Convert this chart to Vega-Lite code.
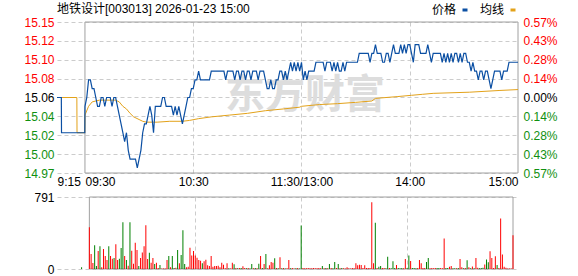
{
"$schema": "https://vega.github.io/schema/vega-lite/v6.json",
"background": "white",
"padding": {"left": 23, "top": 3, "right": 10, "bottom": 0},
"bounds": "flush",
"spacing": 24,
"resolve": {"scale": {"color": "independent"}, "legend": {"color": "independent"}},
"config": {"font": "Liberation Sans, Noto Sans CJK SC", "view": {"stroke": null}},
"datasets": {
"px": [
{"t":-15.5,"p":15.06,"s":"价格"},{"t":-13.1,"p":15.06,"s":"价格"},{"t":-13,"p":15.02,"s":"价格"},{"t":-0.1,"p":15.02,"s":"价格"},
{"t":0,"p":15.05,"s":"价格"},{"t":1,"p":15.06,"s":"价格"},{"t":2,"p":15.08,"s":"价格"},{"t":3,"p":15.08,"s":"价格"},{"t":4,"p":15.07,"s":"价格"},{"t":5,"p":15.07,"s":"价格"},{"t":6,"p":15.06,"s":"价格"},{"t":7,"p":15.05,"s":"价格"},{"t":8,"p":15.05,"s":"价格"},{"t":9,"p":15.06,"s":"价格"},
{"t":10,"p":15.06,"s":"价格"},{"t":11,"p":15.05,"s":"价格"},{"t":12,"p":15.06,"s":"价格"},{"t":13,"p":15.06,"s":"价格"},{"t":14,"p":15.06,"s":"价格"},{"t":15,"p":15.05,"s":"价格"},{"t":16,"p":15.06,"s":"价格"},{"t":17,"p":15.06,"s":"价格"},{"t":18,"p":15.05,"s":"价格"},{"t":19,"p":15.04,"s":"价格"},
{"t":20,"p":15.03,"s":"价格"},{"t":21,"p":15.02,"s":"价格"},{"t":22,"p":15.01,"s":"价格"},{"t":23,"p":15.02,"s":"价格"},{"t":24,"p":15.00,"s":"价格"},{"t":25,"p":14.99,"s":"价格"},{"t":26,"p":14.99,"s":"价格"},{"t":27,"p":14.99,"s":"价格"},{"t":28,"p":14.99,"s":"价格"},{"t":29,"p":14.98,"s":"价格"},
{"t":30,"p":14.99,"s":"价格"},{"t":31,"p":15.00,"s":"价格"},{"t":32,"p":15.02,"s":"价格"},{"t":33,"p":15.03,"s":"价格"},{"t":34,"p":15.03,"s":"价格"},{"t":35,"p":15.04,"s":"价格"},{"t":36,"p":15.05,"s":"价格"},{"t":37,"p":15.04,"s":"价格"},{"t":38,"p":15.02,"s":"价格"},{"t":39,"p":15.05,"s":"价格"},
{"t":40,"p":15.05,"s":"价格"},{"t":41,"p":15.05,"s":"价格"},{"t":42,"p":15.05,"s":"价格"},{"t":43,"p":15.06,"s":"价格"},{"t":44,"p":15.06,"s":"价格"},{"t":45,"p":15.05,"s":"价格"},{"t":46,"p":15.05,"s":"价格"},{"t":47,"p":15.05,"s":"价格"},{"t":48,"p":15.05,"s":"价格"},{"t":49,"p":15.04,"s":"价格"},
{"t":50,"p":15.05,"s":"价格"},{"t":51,"p":15.04,"s":"价格"},{"t":52,"p":15.05,"s":"价格"},{"t":53,"p":15.04,"s":"价格"},{"t":54,"p":15.03,"s":"价格"},{"t":55,"p":15.04,"s":"价格"},{"t":56,"p":15.05,"s":"价格"},{"t":57,"p":15.06,"s":"价格"},{"t":58,"p":15.06,"s":"价格"},{"t":59,"p":15.07,"s":"价格"},
{"t":60,"p":15.07,"s":"价格"},{"t":61,"p":15.08,"s":"价格"},{"t":62,"p":15.08,"s":"价格"},{"t":63,"p":15.09,"s":"价格"},{"t":64,"p":15.08,"s":"价格"},{"t":65,"p":15.08,"s":"价格"},{"t":66,"p":15.08,"s":"价格"},{"t":67,"p":15.08,"s":"价格"},{"t":68,"p":15.08,"s":"价格"},{"t":69,"p":15.08,"s":"价格"},
{"t":70,"p":15.09,"s":"价格"},{"t":71,"p":15.09,"s":"价格"},{"t":72,"p":15.09,"s":"价格"},{"t":73,"p":15.09,"s":"价格"},{"t":74,"p":15.09,"s":"价格"},{"t":75,"p":15.09,"s":"价格"},{"t":76,"p":15.09,"s":"价格"},{"t":77,"p":15.09,"s":"价格"},{"t":78,"p":15.08,"s":"价格"},{"t":79,"p":15.09,"s":"价格"},
{"t":80,"p":15.09,"s":"价格"},{"t":81,"p":15.09,"s":"价格"},{"t":82,"p":15.09,"s":"价格"},{"t":83,"p":15.08,"s":"价格"},{"t":84,"p":15.09,"s":"价格"},{"t":85,"p":15.09,"s":"价格"},{"t":86,"p":15.08,"s":"价格"},{"t":87,"p":15.09,"s":"价格"},{"t":88,"p":15.09,"s":"价格"},{"t":89,"p":15.08,"s":"价格"},
{"t":90,"p":15.09,"s":"价格"},{"t":91,"p":15.09,"s":"价格"},{"t":92,"p":15.08,"s":"价格"},{"t":93,"p":15.09,"s":"价格"},{"t":94,"p":15.09,"s":"价格"},{"t":95,"p":15.09,"s":"价格"},{"t":96,"p":15.08,"s":"价格"},{"t":97,"p":15.09,"s":"价格"},{"t":98,"p":15.09,"s":"价格"},{"t":99,"p":15.09,"s":"价格"},
{"t":100,"p":15.08,"s":"价格"},{"t":101,"p":15.07,"s":"价格"},{"t":102,"p":15.07,"s":"价格"},{"t":103,"p":15.08,"s":"价格"},{"t":104,"p":15.07,"s":"价格"},{"t":105,"p":15.07,"s":"价格"},{"t":106,"p":15.08,"s":"价格"},{"t":107,"p":15.08,"s":"价格"},{"t":108,"p":15.09,"s":"价格"},{"t":109,"p":15.09,"s":"价格"},
{"t":110,"p":15.08,"s":"价格"},{"t":111,"p":15.09,"s":"价格"},{"t":112,"p":15.08,"s":"价格"},{"t":113,"p":15.09,"s":"价格"},{"t":114,"p":15.10,"s":"价格"},{"t":115,"p":15.09,"s":"价格"},{"t":116,"p":15.10,"s":"价格"},{"t":117,"p":15.09,"s":"价格"},{"t":118,"p":15.10,"s":"价格"},{"t":119,"p":15.09,"s":"价格"},
{"t":120,"p":15.10,"s":"价格"},{"t":121,"p":15.08,"s":"价格"},{"t":122,"p":15.09,"s":"价格"},{"t":123,"p":15.08,"s":"价格"},{"t":124,"p":15.09,"s":"价格"},{"t":125,"p":15.09,"s":"价格"},{"t":126,"p":15.09,"s":"价格"},{"t":127,"p":15.09,"s":"价格"},{"t":128,"p":15.10,"s":"价格"},{"t":129,"p":15.10,"s":"价格"},
{"t":130,"p":15.10,"s":"价格"},{"t":131,"p":15.10,"s":"价格"},{"t":132,"p":15.10,"s":"价格"},{"t":133,"p":15.09,"s":"价格"},{"t":134,"p":15.10,"s":"价格"},{"t":135,"p":15.10,"s":"价格"},{"t":136,"p":15.10,"s":"价格"},{"t":137,"p":15.09,"s":"价格"},{"t":138,"p":15.10,"s":"价格"},{"t":139,"p":15.09,"s":"价格"},
{"t":140,"p":15.10,"s":"价格"},{"t":141,"p":15.09,"s":"价格"},{"t":142,"p":15.09,"s":"价格"},{"t":143,"p":15.10,"s":"价格"},{"t":144,"p":15.09,"s":"价格"},{"t":145,"p":15.10,"s":"价格"},{"t":146,"p":15.10,"s":"价格"},{"t":147,"p":15.10,"s":"价格"},{"t":148,"p":15.10,"s":"价格"},{"t":149,"p":15.10,"s":"价格"},
{"t":150,"p":15.10,"s":"价格"},{"t":151,"p":15.10,"s":"价格"},{"t":152,"p":15.11,"s":"价格"},{"t":153,"p":15.11,"s":"价格"},{"t":154,"p":15.11,"s":"价格"},{"t":155,"p":15.11,"s":"价格"},{"t":156,"p":15.11,"s":"价格"},{"t":157,"p":15.11,"s":"价格"},{"t":158,"p":15.10,"s":"价格"},{"t":159,"p":15.11,"s":"价格"},
{"t":160,"p":15.11,"s":"价格"},{"t":161,"p":15.12,"s":"价格"},{"t":162,"p":15.11,"s":"价格"},{"t":163,"p":15.11,"s":"价格"},{"t":164,"p":15.11,"s":"价格"},{"t":165,"p":15.10,"s":"价格"},{"t":166,"p":15.10,"s":"价格"},{"t":167,"p":15.11,"s":"价格"},{"t":168,"p":15.11,"s":"价格"},{"t":169,"p":15.10,"s":"价格"},
{"t":170,"p":15.11,"s":"价格"},{"t":171,"p":15.12,"s":"价格"},{"t":172,"p":15.11,"s":"价格"},{"t":173,"p":15.11,"s":"价格"},{"t":174,"p":15.11,"s":"价格"},{"t":175,"p":15.12,"s":"价格"},{"t":176,"p":15.11,"s":"价格"},{"t":177,"p":15.12,"s":"价格"},{"t":178,"p":15.11,"s":"价格"},{"t":179,"p":15.12,"s":"价格"},
{"t":180,"p":15.12,"s":"价格"},{"t":181,"p":15.11,"s":"价格"},{"t":182,"p":15.10,"s":"价格"},{"t":183,"p":15.12,"s":"价格"},{"t":184,"p":15.12,"s":"价格"},{"t":185,"p":15.12,"s":"价格"},{"t":186,"p":15.11,"s":"价格"},{"t":187,"p":15.11,"s":"价格"},{"t":188,"p":15.11,"s":"价格"},{"t":189,"p":15.11,"s":"价格"},
{"t":190,"p":15.12,"s":"价格"},{"t":191,"p":15.11,"s":"价格"},{"t":192,"p":15.10,"s":"价格"},{"t":193,"p":15.11,"s":"价格"},{"t":194,"p":15.11,"s":"价格"},{"t":195,"p":15.11,"s":"价格"},{"t":196,"p":15.11,"s":"价格"},{"t":197,"p":15.11,"s":"价格"},{"t":198,"p":15.10,"s":"价格"},{"t":199,"p":15.11,"s":"价格"},
{"t":200,"p":15.10,"s":"价格"},{"t":201,"p":15.11,"s":"价格"},{"t":202,"p":15.10,"s":"价格"},{"t":203,"p":15.11,"s":"价格"},{"t":204,"p":15.10,"s":"价格"},{"t":205,"p":15.11,"s":"价格"},{"t":206,"p":15.11,"s":"价格"},{"t":207,"p":15.10,"s":"价格"},{"t":208,"p":15.11,"s":"价格"},{"t":209,"p":15.10,"s":"价格"},
{"t":210,"p":15.11,"s":"价格"},{"t":211,"p":15.11,"s":"价格"},{"t":212,"p":15.10,"s":"价格"},{"t":213,"p":15.10,"s":"价格"},{"t":214,"p":15.09,"s":"价格"},{"t":215,"p":15.10,"s":"价格"},{"t":216,"p":15.09,"s":"价格"},{"t":217,"p":15.09,"s":"价格"},{"t":218,"p":15.08,"s":"价格"},{"t":219,"p":15.09,"s":"价格"},
{"t":220,"p":15.09,"s":"价格"},{"t":221,"p":15.08,"s":"价格"},{"t":222,"p":15.09,"s":"价格"},{"t":223,"p":15.09,"s":"价格"},{"t":224,"p":15.08,"s":"价格"},{"t":225,"p":15.07,"s":"价格"},{"t":226,"p":15.08,"s":"价格"},{"t":227,"p":15.09,"s":"价格"},{"t":228,"p":15.09,"s":"价格"},{"t":229,"p":15.09,"s":"价格"},
{"t":230,"p":15.09,"s":"价格"},{"t":231,"p":15.08,"s":"价格"},{"t":232,"p":15.09,"s":"价格"},{"t":233,"p":15.09,"s":"价格"},{"t":234,"p":15.09,"s":"价格"},{"t":235,"p":15.10,"s":"价格"},{"t":236,"p":15.10,"s":"价格"},{"t":237,"p":15.10,"s":"价格"},{"t":238,"p":15.10,"s":"价格"},{"t":239,"p":15.10,"s":"价格"},{"t":240,"p":15.10,"s":"价格"},
{"t":-15.5,"p":15.06,"s":"均线"},{"t":-4.5,"p":15.06,"s":"均线"},{"t":-4.4,"p":15.02,"s":"均线"},{"t":-0.1,"p":15.02,"s":"均线"},
{"t":0,"p":15.04,"s":"均线"},{"t":2,"p":15.05,"s":"均线"},{"t":4,"p":15.055,"s":"均线"},{"t":6,"p":15.056,"s":"均线"},{"t":8,"p":15.057,"s":"均线"},{"t":17,"p":15.057,"s":"均线"},{"t":19,"p":15.055,"s":"均线"},{"t":21,"p":15.05,"s":"均线"},{"t":23,"p":15.047,"s":"均线"},{"t":25,"p":15.042,"s":"均线"},{"t":27,"p":15.038,"s":"均线"},{"t":30,"p":15.035,"s":"均线"},{"t":32,"p":15.033,"s":"均线"},{"t":34,"p":15.032,"s":"均线"},{"t":40,"p":15.032,"s":"均线"},{"t":47,"p":15.033,"s":"均线"},{"t":54,"p":15.033,"s":"均线"},{"t":58,"p":15.034,"s":"均线"},{"t":63,"p":15.036,"s":"均线"},{"t":70,"p":15.038,"s":"均线"},{"t":80,"p":15.04,"s":"均线"},{"t":90,"p":15.042,"s":"均线"},{"t":100,"p":15.045,"s":"均线"},{"t":110,"p":15.047,"s":"均线"},{"t":119,"p":15.049,"s":"均线"},{"t":120,"p":15.05,"s":"均线"},{"t":130,"p":15.052,"s":"均线"},{"t":140,"p":15.053,"s":"均线"},{"t":150,"p":15.0545,"s":"均线"},{"t":159,"p":15.056,"s":"均线"},{"t":161,"p":15.059,"s":"均线"},{"t":173,"p":15.061,"s":"均线"},{"t":181,"p":15.0625,"s":"均线"},{"t":187,"p":15.0636,"s":"均线"},{"t":193,"p":15.0647,"s":"均线"},{"t":213,"p":15.066,"s":"均线"},{"t":230,"p":15.068,"s":"均线"},{"t":240,"p":15.069,"s":"均线"}
],
"vol": [
{"t":-4.4,"v":18,"d":"down"},
{"t":0,"v":459,"d":"up"},{"t":1,"v":164,"d":"up"},{"t":2,"v":66,"d":"up"},{"t":3,"v":262,"d":"down"},{"t":4,"v":33,"d":"down"},{"t":5,"v":197,"d":"up"},{"t":6,"v":251,"d":"down"},{"t":7,"v":18,"d":"up"},{"t":8,"v":219,"d":"up"},{"t":9,"v":142,"d":"up"},
{"t":10,"v":98,"d":"up"},{"t":11,"v":251,"d":"down"},{"t":12,"v":142,"d":"up"},{"t":13,"v":113,"d":"up"},{"t":14,"v":120,"d":"down"},{"t":15,"v":273,"d":"up"},{"t":16,"v":98,"d":"up"},{"t":17,"v":113,"d":"down"},{"t":18,"v":230,"d":"down"},{"t":19,"v":514,"d":"down"},
{"t":20,"v":142,"d":"up"},{"t":21,"v":98,"d":"down"},{"t":22,"v":36,"d":"up"},{"t":23,"v":514,"d":"down"},{"t":24,"v":200,"d":"up"},{"t":25,"v":58,"d":"up"},{"t":26,"v":288,"d":"up"},{"t":27,"v":208,"d":"up"},{"t":28,"v":33,"d":"down"},{"t":29,"v":120,"d":"up"},
{"t":30,"v":182,"d":"up"},{"t":31,"v":251,"d":"up"},{"t":32,"v":481,"d":"up"},{"t":33,"v":109,"d":"up"},{"t":34,"v":179,"d":"down"},{"t":35,"v":69,"d":"up"},{"t":36,"v":120,"d":"up"},{"t":37,"v":55,"d":"down"},{"t":38,"v":69,"d":"up"},{"t":39,"v":10,"d":"up"},
{"t":40,"v":44,"d":"down"},{"t":41,"v":6,"d":"up"},{"t":42,"v":6,"d":"up"},{"t":43,"v":6,"d":"up"},{"t":44,"v":98,"d":"up"},{"t":45,"v":142,"d":"down"},{"t":46,"v":18,"d":"up"},{"t":47,"v":142,"d":"down"},{"t":48,"v":11,"d":"down"},{"t":49,"v":15,"d":"up"},
{"t":50,"v":208,"d":"down"},{"t":51,"v":62,"d":"up"},{"t":52,"v":153,"d":"down"},{"t":53,"v":426,"d":"down"},{"t":54,"v":55,"d":"down"},{"t":55,"v":18,"d":"up"},{"t":56,"v":26,"d":"up"},{"t":57,"v":233,"d":"up"},{"t":58,"v":149,"d":"up"},{"t":59,"v":197,"d":"up"},
{"t":60,"v":149,"d":"up"},{"t":61,"v":124,"d":"up"},{"t":62,"v":98,"d":"up"},{"t":63,"v":91,"d":"up"},{"t":64,"v":62,"d":"down"},{"t":65,"v":84,"d":"up"},{"t":66,"v":102,"d":"up"},{"t":67,"v":40,"d":"up"},{"t":68,"v":33,"d":"up"},{"t":69,"v":142,"d":"up"},
{"t":70,"v":26,"d":"up"},{"t":71,"v":33,"d":"up"},{"t":72,"v":33,"d":"up"},{"t":73,"v":36,"d":"up"},{"t":74,"v":18,"d":"up"},{"t":75,"v":69,"d":"up"},{"t":76,"v":47,"d":"up"},{"t":77,"v":8,"d":"up"},{"t":78,"v":62,"d":"up"},{"t":79,"v":8,"d":"down"},
{"t":80,"v":6,"d":"up"},{"t":81,"v":69,"d":"up"},{"t":82,"v":51,"d":"down"},{"t":83,"v":10,"d":"up"},{"t":84,"v":8,"d":"down"},{"t":85,"v":10,"d":"up"},{"t":86,"v":12,"d":"down"},{"t":87,"v":29,"d":"up"},{"t":88,"v":11,"d":"up"},{"t":89,"v":8,"d":"down"},
{"t":90,"v":10,"d":"up"},{"t":91,"v":6,"d":"down"},{"t":92,"v":55,"d":"down"},{"t":93,"v":8,"d":"up"},{"t":94,"v":10,"d":"down"},{"t":95,"v":8,"d":"up"},{"t":96,"v":58,"d":"down"},{"t":97,"v":142,"d":"up"},{"t":98,"v":12,"d":"down"},{"t":99,"v":55,"d":"up"},
{"t":100,"v":164,"d":"down"},{"t":101,"v":8,"d":"up"},{"t":102,"v":40,"d":"up"},{"t":103,"v":77,"d":"up"},{"t":104,"v":70,"d":"up"},{"t":105,"v":117,"d":"down"},{"t":106,"v":10,"d":"up"},{"t":107,"v":8,"d":"down"},{"t":108,"v":128,"d":"up"},{"t":109,"v":8,"d":"down"},
{"t":110,"v":10,"d":"up"},{"t":111,"v":6,"d":"down"},{"t":112,"v":8,"d":"up"},{"t":113,"v":98,"d":"up"},{"t":114,"v":8,"d":"down"},{"t":115,"v":10,"d":"up"},{"t":116,"v":6,"d":"up"},{"t":117,"v":8,"d":"down"},{"t":118,"v":10,"d":"up"},{"t":119,"v":6,"d":"down"},
{"t":120,"v":477,"d":"down"},{"t":121,"v":10,"d":"up"},{"t":122,"v":8,"d":"up"},{"t":123,"v":8,"d":"up"},{"t":124,"v":10,"d":"up"},{"t":125,"v":8,"d":"up"},{"t":126,"v":8,"d":"up"},{"t":127,"v":10,"d":"up"},{"t":128,"v":8,"d":"up"},{"t":129,"v":8,"d":"up"},
{"t":130,"v":10,"d":"up"},{"t":131,"v":8,"d":"up"},{"t":132,"v":33,"d":"down"},{"t":133,"v":8,"d":"up"},{"t":134,"v":10,"d":"down"},{"t":135,"v":8,"d":"up"},{"t":136,"v":55,"d":"down"},{"t":137,"v":10,"d":"up"},{"t":138,"v":8,"d":"down"},{"t":139,"v":77,"d":"down"},
{"t":140,"v":10,"d":"up"},{"t":141,"v":55,"d":"down"},{"t":142,"v":8,"d":"up"},{"t":143,"v":10,"d":"down"},{"t":144,"v":8,"d":"up"},{"t":145,"v":6,"d":"up"},{"t":146,"v":18,"d":"up"},{"t":147,"v":8,"d":"up"},{"t":148,"v":6,"d":"up"},{"t":149,"v":10,"d":"up"},
{"t":150,"v":8,"d":"up"},{"t":151,"v":62,"d":"up"},{"t":152,"v":40,"d":"up"},{"t":153,"v":47,"d":"up"},{"t":154,"v":44,"d":"up"},{"t":155,"v":10,"d":"up"},{"t":156,"v":40,"d":"up"},{"t":157,"v":12,"d":"up"},{"t":158,"v":10,"d":"up"},{"t":159,"v":12,"d":"up"},
{"t":160,"v":733,"d":"up"},{"t":161,"v":62,"d":"up"},{"t":162,"v":507,"d":"down"},{"t":163,"v":10,"d":"up"},{"t":164,"v":25,"d":"down"},{"t":165,"v":33,"d":"down"},{"t":166,"v":10,"d":"up"},{"t":167,"v":12,"d":"up"},{"t":168,"v":8,"d":"down"},{"t":169,"v":135,"d":"down"},
{"t":170,"v":10,"d":"up"},{"t":171,"v":8,"d":"down"},{"t":172,"v":84,"d":"down"},{"t":173,"v":10,"d":"down"},{"t":174,"v":44,"d":"up"},{"t":175,"v":12,"d":"down"},{"t":176,"v":8,"d":"down"},{"t":177,"v":10,"d":"down"},{"t":178,"v":8,"d":"up"},{"t":179,"v":109,"d":"up"},
{"t":180,"v":10,"d":"down"},{"t":181,"v":149,"d":"down"},{"t":182,"v":87,"d":"up"},{"t":183,"v":10,"d":"down"},{"t":184,"v":12,"d":"down"},{"t":185,"v":8,"d":"down"},{"t":186,"v":10,"d":"up"},{"t":187,"v":98,"d":"up"},{"t":188,"v":62,"d":"up"},{"t":189,"v":10,"d":"up"},
{"t":190,"v":12,"d":"up"},{"t":191,"v":77,"d":"down"},{"t":192,"v":120,"d":"down"},{"t":193,"v":8,"d":"up"},{"t":194,"v":10,"d":"up"},{"t":195,"v":8,"d":"up"},{"t":196,"v":10,"d":"up"},{"t":197,"v":12,"d":"down"},{"t":198,"v":10,"d":"down"},{"t":199,"v":10,"d":"up"},
{"t":200,"v":8,"d":"up"},{"t":201,"v":335,"d":"up"},{"t":202,"v":10,"d":"down"},{"t":203,"v":12,"d":"down"},{"t":204,"v":25,"d":"up"},{"t":205,"v":33,"d":"up"},{"t":206,"v":8,"d":"down"},{"t":207,"v":8,"d":"down"},{"t":208,"v":8,"d":"up"},{"t":209,"v":10,"d":"down"},
{"t":210,"v":109,"d":"up"},{"t":211,"v":20,"d":"up"},{"t":212,"v":8,"d":"down"},{"t":213,"v":10,"d":"up"},{"t":214,"v":95,"d":"down"},{"t":215,"v":18,"d":"up"},{"t":216,"v":8,"d":"down"},{"t":217,"v":28,"d":"up"},{"t":218,"v":8,"d":"down"},{"t":219,"v":120,"d":"up"},
{"t":220,"v":15,"d":"up"},{"t":221,"v":8,"d":"down"},{"t":222,"v":10,"d":"down"},{"t":223,"v":15,"d":"down"},{"t":224,"v":50,"d":"up"},{"t":225,"v":105,"d":"down"},{"t":226,"v":75,"d":"down"},{"t":227,"v":195,"d":"up"},{"t":228,"v":120,"d":"up"},{"t":229,"v":10,"d":"up"},
{"t":230,"v":140,"d":"up"},{"t":231,"v":45,"d":"down"},{"t":232,"v":10,"d":"up"},{"t":233,"v":555,"d":"up"},{"t":234,"v":160,"d":"up"},{"t":235,"v":25,"d":"up"},{"t":236,"v":15,"d":"up"},{"t":237,"v":5,"d":"up"},{"t":238,"v":5,"d":"up"},{"t":239,"v":5,"d":"up"},
{"t":240,"v":370,"d":"up"}
]
},
"vconcat": [
{
"width": 461, "height": 151,
"title": {"text": "地铁设计[003013] 2026-01-23 15:00", "anchor": "start", "frame": "group", "fontSize": 12, "fontWeight": "normal", "color": "#000000", "offset": -12},
"resolve": {"axis": {"y": "independent"}},
"layer": [
{
"data": {"values": [{"w": "东方财富"}]},
"mark": {"type": "text", "fontSize": 40, "fontWeight": "bold", "font": "Noto Sans CJK SC", "color": "#dddddd"},
"encoding": {
"text": {"field": "w"},
"x": {"datum": 122, "type": "quantitative", "scale": {"domain": [-15.5, 240], "nice": false, "zero": false},
"axis": {"values": [-15.5, 0, 60, 120, 180, 240], "labelExpr": "datum.value < -1 ? '9:15' : datum.value < 1 ? '09:30' : datum.value < 61 ? '10:30' : datum.value < 121 ? '11:30/13:00' : datum.value < 181 ? '14:00' : '15:00'", "labelAlign": {"condition": [{"test": "datum.value < 1", "value": "left"}, {"test": "datum.value > 239", "value": "right"}], "value": "center"}, "ticks": false, "domain": false, "labelPadding": 3, "title": null, "grid": true, "gridOpacity": {"condition": {"test": "datum.value < 1 || datum.value > 239", "value": 0}, "value": 1}, "gridColor": "#cccccc", "gridDash": [4, 3], "labelFlush": false, "labelOverlap": false, "labelBound": false, "labelFontSize": 12, "labelColor": "#000000"}},
"y": {"datum": 15.062, "type": "quantitative", "scale": {"domain": [14.9743, 15.1457], "nice": false, "zero": false}, "axis": null}
}
},
{
"data": {"values": [{"b": 1}]},
"mark": {"type": "rect", "fill": "transparent", "stroke": "#a0a0a0", "strokeWidth": 1},
"encoding": {
"x": {"datum": 0, "type": "quantitative"},
"x2": {"datum": 240},
"y": {"datum": 14.9743, "type": "quantitative", "axis": null},
"y2": {"datum": 15.1457}
}
},
{
"data": {"name": "px"},
"transform": [{"filter": "datum.s == '均线'"}],
"mark": {"type": "line", "strokeWidth": 1},
"encoding": {
"x": {"field": "t", "type": "quantitative"},
"y": {"field": "p", "type": "quantitative",
"axis": {"orient": "left", "values": [14.9743, 14.9957, 15.0172, 15.0386, 15.06, 15.0814, 15.1028, 15.1243, 15.1457], "format": ".2f", "title": null, "ticks": false, "domain": false, "labelPadding": 3, "grid": true, "gridColor": "#cccccc", "gridDash": [4, 3], "labelFontSize": 12, "labelColor": {"condition": [{"test": "datum.value > 15.065", "value": "#ff0000"}, {"test": "datum.value < 15.055", "value": "#109010"}], "value": "#000000"}}},
"color": {"field": "s", "type": "nominal", "scale": {"domain": ["价格", "均线"], "range": ["#0b4fa3", "#e3a21a"]},
"legend": {"orient": "none", "legendX": 402, "legendY": -18, "direction": "horizontal", "title": null, "symbolType": "stroke", "symbolStrokeWidth": 3, "symbolSize": 25, "labelAlign": "right", "labelOffset": -15, "columnPadding": 5, "labelFontSize": 12, "labelColor": "#000000", "padding": 0}}
}
},
{
"data": {"name": "px"},
"transform": [{"filter": "datum.s == '价格'"}],
"mark": {"type": "line", "strokeWidth": 1.2},
"encoding": {
"x": {"field": "t", "type": "quantitative"},
"y": {"field": "p", "type": "quantitative",
"axis": {"orient": "right", "values": [14.9743, 14.9957, 15.0172, 15.0386, 15.06, 15.0814, 15.1028, 15.1243, 15.1457], "labelExpr": "format(abs(datum.value - 15.06) / 15.06 * 100, '.2f') + '%'", "title": null, "ticks": false, "domain": false, "grid": false, "labelPadding": 5, "labelFontSize": 12, "labelColor": {"condition": [{"test": "datum.value > 15.065", "value": "#ff0000"}, {"test": "datum.value < 15.055", "value": "#109010"}], "value": "#000000"}}},
"color": {"field": "s", "type": "nominal"}
}
}
]
},
{
"width": 461, "height": 72,
"layer": [
{
"data": {"values": [{"b": 1}]},
"mark": {"type": "rect", "fill": "transparent", "stroke": "#a0a0a0", "strokeWidth": 1},
"encoding": {
"x": {"datum": 0, "type": "quantitative", "scale": {"domain": [-15.5, 240], "nice": false, "zero": false},
"axis": {"values": [60, 120, 180], "labels": false, "ticks": false, "domain": false, "title": null, "grid": true, "gridColor": "#cccccc", "gridDash": [4, 3]}},
"x2": {"datum": 240},
"y": {"datum": 0, "type": "quantitative", "scale": {"domain": [0, 791], "nice": false},
"axis": {"values": [0, 197.75, 395.5, 593.25, 791], "format": ".0f", "title": null, "ticks": false, "domain": false, "labelPadding": 3, "grid": true, "gridColor": "#cccccc", "gridDash": [4, 3], "labelFontSize": 12, "labelColor": "#000000"}},
"y2": {"datum": 791}
}
},
{
"data": {"name": "vol"},
"mark": {"type": "bar", "width": 1},
"encoding": {
"x": {"field": "t", "type": "quantitative"},
"y": {"field": "v", "type": "quantitative"},
"color": {"field": "d", "type": "nominal", "scale": {"domain": ["up", "down"], "range": ["#ff0000", "#008000"]}, "legend": null}
}
}
]
}
]
}
